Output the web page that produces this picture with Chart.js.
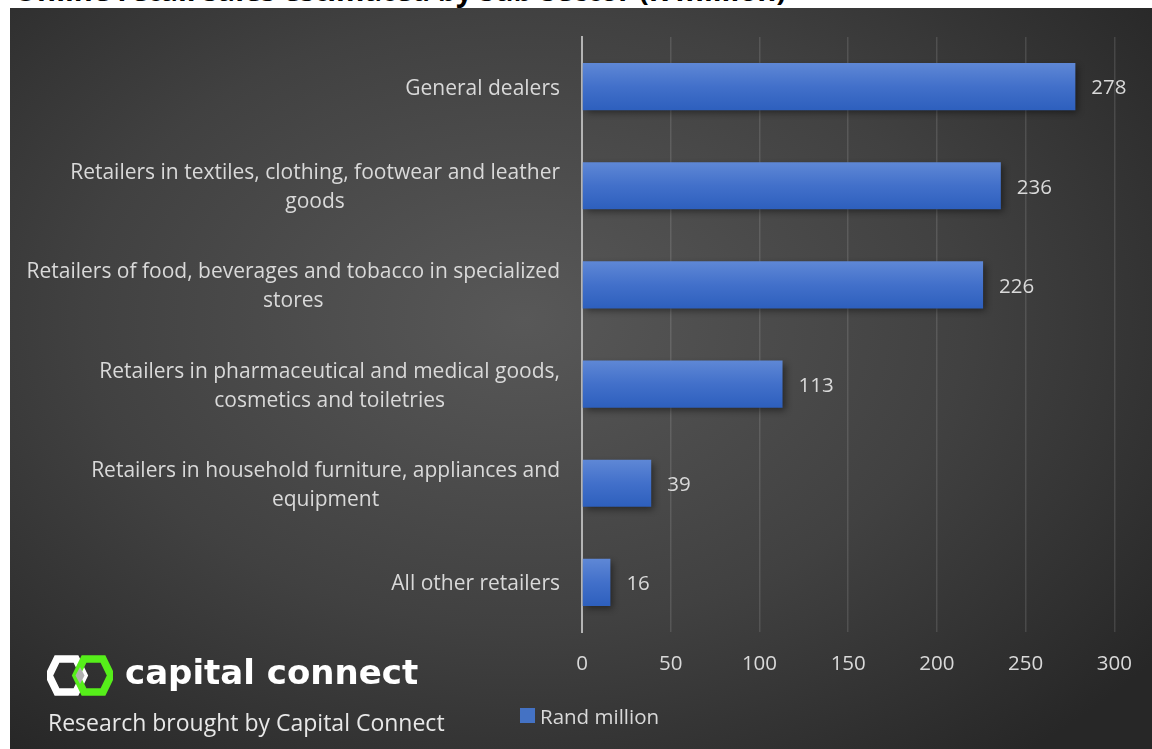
<!DOCTYPE html>
<html>
<head>
<meta charset="utf-8">
<script src="https://cdn.jsdelivr.net/npm/chart.js@4.4.1/dist/chart.umd.min.js"></script>
<style>
  html, body { margin: 0; padding: 0; background: #fff; }
  body { width: 1152px; height: 749px; position: relative; overflow: hidden; }
  #titre {
    position: absolute; left: 14px; top: -30px;
    font: bold 29px "Open Sans", sans-serif; color: #000; white-space: nowrap;
  }
  #panel {
    position: absolute; left: 10px; top: 8px; width: 1142px; height: 741px;
    background: radial-gradient(ellipse 70% 75% at 45% 42%, #585858 0%, #414141 55%, #272727 100%);
  }
  #panel canvas { position: absolute; left: 0; top: 0; }
  #logo { position: absolute; left: 37px; top: 647px; }
  #logoTexte {
    position: absolute; left: 115px; top: 644px;
    font: bold 34px "DejaVu Sans", sans-serif; color: #fff;
  }
  #sousTitre {
    position: absolute; left: 38px; top: 698px;
    font: 23px "Open Sans", sans-serif; color: #e8e8e8;
  }
</style>
</head>
<body>
<div id="titre">Online retail sales estimated by sub-sector (R million)</div>
<div id="panel">
  <canvas id="graphique" width="1142" height="741"></canvas>
  <svg id="logo" width="66" height="41" viewBox="0 0 66 41">
    <polygon points="10,4 29,4 37,20.5 29,37 10,37 2,20.5" fill="none" stroke="#ffffff" stroke-width="7.5"/>
    <polygon points="37,4 56,4 64,20.5 56,37 37,37 29,20.5" fill="none" stroke="#56ee1a" stroke-width="7.5"/>
    <polygon points="33,12 37.5,20.5 33,29 28.5,20.5" fill="#b0b0b0"/>
  </svg>
  <div id="logoTexte">capital connect</div>
  <div id="sousTitre">Research brought by Capital Connect</div>
</div>
<script>
const categories = [
    'General dealers',
    ['Retailers in textiles, clothing, footwear and leather', 'goods'],
    ['Retailers of food, beverages and tobacco in specialized', 'stores'],
    ['Retailers in pharmaceutical and medical goods,', 'cosmetics and toiletries'],
    ['Retailers in household furniture, appliances and', 'equipment'],
    'All other retailers'
];
const valeurs = [278, 236, 226, 113, 39, 16];
const ticksX = [0, 50, 100, 150, 200, 250, 300];
const nomSerie = 'Rand million';

const police = '"Open Sans", sans-serif';
const taille = 20.5;
const gris = '#d9d9d9';
const bleu = '#4472c4';

function degradeBarre(context) {
    const chart = context.chart;
    const y = chart.scales && chart.scales.y;
    if (!chart.chartArea || !y || context.dataIndex === undefined) {
        return bleu;
    }
    const centre = y.getPixelForValue(context.dataIndex);
    const g = chart.ctx.createLinearGradient(0, centre - 24, 0, centre + 24);
    g.addColorStop(0, '#5f88d6');
    g.addColorStop(0.5, '#4270ca');
    g.addColorStop(1, '#2d5fbd');
    return g;
}

const ombre = {
    id: 'ombre',
    beforeDatasetsDraw(chart) {
        const ctx = chart.ctx;
        ctx.save();
        ctx.shadowColor = 'rgba(0,0,0,0.45)';
        ctx.shadowBlur = 7;
        ctx.shadowOffsetX = 3;
        ctx.shadowOffsetY = 3;
    },
    afterDatasetsDraw(chart) {
        chart.ctx.restore();
    }
};

// etiquettes des categories : bloc aligne a droite, lignes centrees
const libelles = {
    id: 'libelles',
    afterDraw(chart) {
        const ctx = chart.ctx;
        const axe = chart.scales.y;
        const droite = chart.chartArea.left - 22;
        const interligne = 29;
        ctx.save();
        ctx.fillStyle = gris;
        ctx.font = '21px ' + police;
        ctx.textAlign = 'center';
        ctx.textBaseline = 'middle';
        categories.forEach((cat, i) => {
            const lignes = Array.isArray(cat) ? cat : [cat];
            const largeur = Math.max(...lignes.map(l => ctx.measureText(l).width));
            const cx = droite - largeur / 2;
            const cy = axe.getPixelForValue(i) + 2;
            const haut = cy - (lignes.length - 1) * interligne / 2;
            lignes.forEach((l, j) => ctx.fillText(l, cx, haut + j * interligne));
        });
        ctx.restore();
    }
};

const etiquettes = {
    id: 'etiquettes',
    afterDraw(chart) {
        const ctx = chart.ctx;
        const meta = chart.getDatasetMeta(0);
        ctx.save();
        ctx.fillStyle = gris;
        ctx.font = taille + 'px ' + police;
        ctx.textAlign = 'left';
        ctx.textBaseline = 'middle';
        meta.data.forEach((barre, i) => {
            ctx.fillText(String(valeurs[i]), barre.x + 16, barre.y + 2);
        });
        // legende
        ctx.fillStyle = bleu;
        ctx.fillRect(510, 700, 15, 15);
        ctx.fillStyle = gris;
        ctx.fillText(nomSerie, 530, 710);
        ctx.restore();
    }
};

const ctx = document.getElementById('graphique').getContext('2d');
const chart = new Chart(ctx, {
    type: 'bar',
    data: {
        labels: categories,
        datasets: [{
            label: nomSerie,
            data: valeurs,
            backgroundColor: degradeBarre,
            borderWidth: 0,
            barPercentage: 0.95,
            categoryPercentage: 0.5
        }]
    },
    options: {
        indexAxis: 'y',
        responsive: false,
        animation: false,
        layout: { padding: { top: 29, right: 36, bottom: 0, left: 0 } },
        scales: {
            x: {
                min: 0,
                max: 300,
                afterBuildTicks: (axe) => { axe.ticks = ticksX.map(v => ({ value: v })); },
                afterFit: (axe) => { axe.height = 117; },
                grid: {
                    color: 'rgba(255,255,255,0.12)',
                    lineWidth: 1.5,
                    drawTicks: false
                },
                border: { display: false },
                ticks: {
                    color: gris,
                    padding: 20,
                    font: { family: police, size: taille }
                }
            },
            y: {
                afterFit: (axe) => { axe.width = 572; },
                grid: { display: false, drawTicks: false },
                border: { display: true, color: '#b4b4b4', width: 2 },
                ticks: { display: false }
            }
        },
        plugins: {
            legend: { display: false },
            tooltip: { enabled: false }
        }
    },
    plugins: [ombre, libelles, etiquettes]
});
</script>
</body>
</html>
